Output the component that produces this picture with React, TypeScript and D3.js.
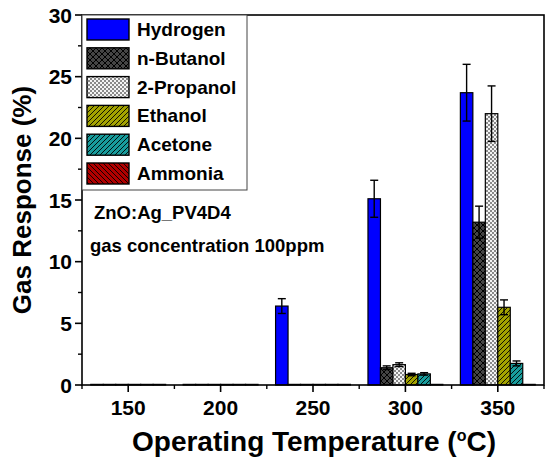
import React from "react";
import * as d3 from "d3";

const temps = [150, 200, 250, 300, 350];
const seriesNames = ["Hydrogen", "n-Butanol", "2-Propanol", "Ethanol", "Acetone", "Ammonia"];
const hydrogen = [0.05, 0.05, 6.4, 15.1, 23.7];
const hydrogenErr = [0, 0, 0.6, 1.5, 2.3];
const butanol = [0.05, 0.05, 0.05, 1.4, 13.2];
const butanolErr = [0, 0, 0, 0.15, 1.3];
const propanol = [0.05, 0.05, 0.05, 1.65, 22.0];
const propanolErr = [0, 0, 0, 0.15, 2.25];
const ethanol = [0.05, 0.05, 0.05, 0.85, 6.3];
const ethanolErr = [0, 0, 0, 0.1, 0.6];
const acetone = [0.05, 0.05, 0.05, 0.9, 1.75];
const acetoneErr = [0, 0, 0, 0.1, 0.2];
const ammonia = [0.05, 0.05, 0.05, 0.05, 0.05];
const ammoniaErr = [0, 0, 0, 0, 0];
const yTicks = [0, 5, 10, 15, 20, 25, 30];
const yMinor = [2.5, 7.5, 12.5, 17.5, 22.5, 27.5];
const xTicks = [150, 200, 250, 300, 350];
const xMinor = [125, 175, 225, 275, 325, 375];

const values = [hydrogen, butanol, propanol, ethanol, acetone, ammonia];
const errors = [hydrogenErr, butanolErr, propanolErr, ethanolErr, acetoneErr, ammoniaErr];
const fills = ["#0000ff", "url(#pBut)", "url(#pProp)", "url(#pEth)", "url(#pAce)", "url(#pAmm)"];

const FONT = "Arial, 'Liberation Sans', sans-serif";

export default function App() {
  const left = 82, right = 544, top = 15, bottom = 385;
  const x = d3.scaleLinear().domain([125, 375]).range([left, right]);
  const y = d3.scaleLinear().domain([0, 30]).range([bottom, top]);
  const barW = 6.75; // data units
  const bw = x(125 + barW) - x(125);

  return (
    <svg width={550} height={460} style={{ position: "absolute", left: 0, top: 0, background: "#fff" }} fontFamily={FONT}>
      <defs>
        <pattern id="pBut" patternUnits="userSpaceOnUse" width={6} height={6}>
          <rect width={6} height={6} fill="#454545" />
          <path d="M0,0 L6,6 M6,0 L0,6" stroke="#000" strokeWidth={1} />
        </pattern>
        <pattern id="pProp" patternUnits="userSpaceOnUse" width={4} height={4}>
          <rect width={4} height={4} fill="#f4f4f4" />
          <rect x={0} y={0} width={2} height={2} fill="#8a8a8a" />
          <rect x={2} y={2} width={2} height={2} fill="#8a8a8a" />
        </pattern>
        <pattern id="pEth" patternUnits="userSpaceOnUse" width={5} height={5}>
          <rect width={5} height={5} fill="#a3a300" />
          <path d="M0,5 L5,0 M-1,1 L1,-1 M4,6 L6,4" stroke="#000" strokeWidth={0.9} />
        </pattern>
        <pattern id="pAce" patternUnits="userSpaceOnUse" width={5} height={5}>
          <rect width={5} height={5} fill="#189c9c" />
          <path d="M0,5 L5,0 M-1,1 L1,-1 M4,6 L6,4" stroke="#000" strokeWidth={0.9} />
        </pattern>
        <pattern id="pAmm" patternUnits="userSpaceOnUse" width={5} height={5}>
          <rect width={5} height={5} fill="#b00000" />
          <path d="M0,0 L5,5 M4,-1 L6,1 M-1,4 L1,6" stroke="#000" strokeWidth={0.9} />
        </pattern>
      </defs>

      {/* bars */}
      {values.map((vals, si) =>
        vals.map((v, ti) => {
          const cx = temps[ti] + (si - 2.5) * barW;
          const x0 = x(cx - barW / 2);
          const yTop = y(v);
          return (
            <rect key={`b${si}-${ti}`} x={x0} y={yTop} width={bw} height={y(0) - yTop}
              fill={fills[si]} stroke="#000" strokeWidth={1.2} />
          );
        })
      )}
      {/* error bars */}
      {values.map((vals, si) =>
        vals.map((v, ti) => {
          const e = errors[si][ti];
          if (!e) return null;
          const cxp = x(temps[ti] + (si - 2.5) * barW);
          const y1 = y(v + e), y2 = y(v - e);
          return (
            <g key={`e${si}-${ti}`} stroke="#000" strokeWidth={1.4}>
              <line x1={cxp} x2={cxp} y1={y1} y2={y2} />
              <line x1={cxp - 4} x2={cxp + 4} y1={y1} y2={y1} />
              <line x1={cxp - 4} x2={cxp + 4} y1={y2} y2={y2} />
            </g>
          );
        })
      )}

      {/* frame */}
      <rect x={left} y={top} width={right - left} height={bottom - top} fill="none" stroke="#000" strokeWidth={1.6} />

      {/* y axis ticks */}
      {yTicks.map((t) => (
        <g key={`yt${t}`}>
          <line x1={left - 7} x2={left} y1={y(t)} y2={y(t)} stroke="#000" strokeWidth={1.6} />
          <text x={left - 10} y={y(t)} dy="0.36em" textAnchor="end" fontSize={21} fontWeight="bold">{t}</text>
        </g>
      ))}
      {yMinor.map((t) => (
        <line key={`ym${t}`} x1={left - 4} x2={left} y1={y(t)} y2={y(t)} stroke="#000" strokeWidth={1.4} />
      ))}
      {/* x axis ticks */}
      {xTicks.map((t) => (
        <g key={`xt${t}`}>
          <line x1={x(t)} x2={x(t)} y1={bottom} y2={bottom + 7} stroke="#000" strokeWidth={1.6} />
          <text x={x(t)} y={bottom + 30} textAnchor="middle" fontSize={21} fontWeight="bold">{t}</text>
        </g>
      ))}
      {xMinor.map((t) => (
        <line key={`xm${t}`} x1={x(t)} x2={x(t)} y1={bottom} y2={bottom + 4} stroke="#000" strokeWidth={1.4} />
      ))}

      {/* axis titles */}
      <text x={314} y={451} textAnchor="middle" fontSize={28} fontWeight="bold">
        Operating Temperature (<tspan dy={-10} fontSize={16}>o</tspan><tspan dy={10}>C)</tspan>
      </text>
      <text transform={`translate(31,${(top + bottom) / 2}) rotate(-90)`} textAnchor="middle" fontSize={26} fontWeight="bold">
        Gas Response (%)
      </text>

      {/* legend */}
      <rect x={left} y={top} width={165} height={175} fill="#fff" stroke="#444" strokeWidth={1} />
      {seriesNames.map((n, i) => (
        <g key={`lg${n}`}>
          <rect x={87} y={19 + i * 28.8} width={42} height={21} fill={fills[i]} stroke="#000" strokeWidth={1.4} />
          <text x={137} y={36 + i * 28.8} fontSize={19} fontWeight="bold">{n}</text>
        </g>
      ))}

      {/* annotations */}
      <text x={94} y={219} fontSize={18.5} fontWeight="bold">ZnO:Ag_PV4D4</text>
      <text x={90} y={252} fontSize={18.5} fontWeight="bold">gas concentration 100ppm</text>
    </svg>
  );
}
